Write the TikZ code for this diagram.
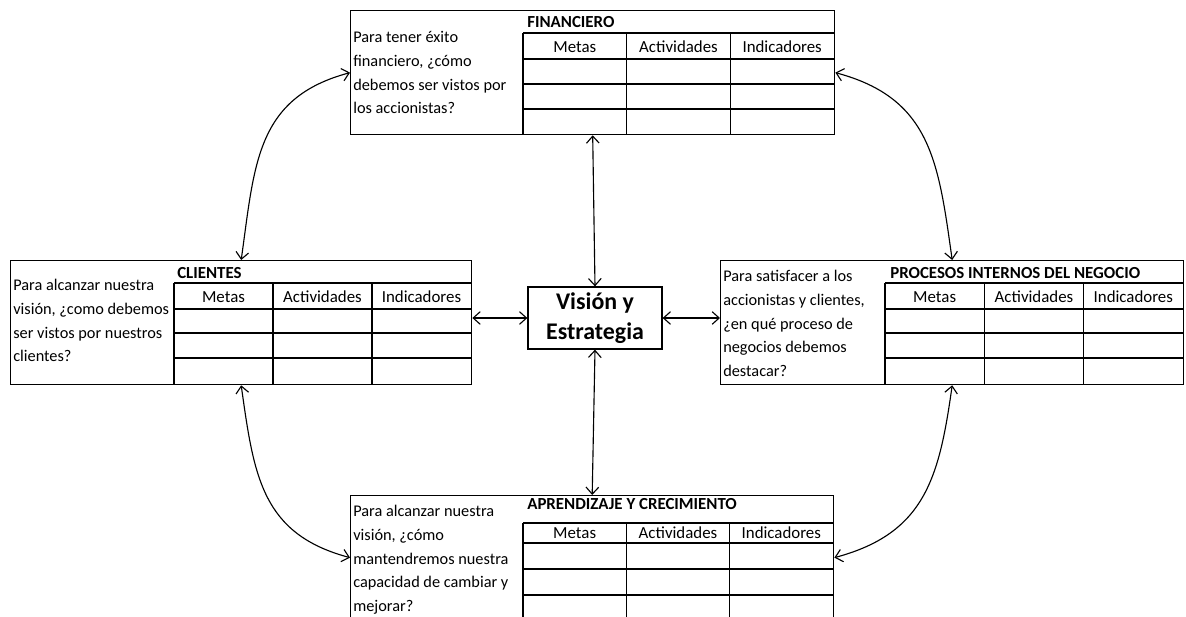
\documentclass[tikz,border=0pt]{standalone}
\usepackage{fontspec}
\setmainfont{Carlito}
\usetikzlibrary{arrows.meta}

\tikzset{
  caja/.style={draw, line width=0.9pt, minimum height=3.1cm, anchor=north west, inner sep=0pt},
  rejilla/.style={line width=0.8pt},
  gruesa/.style={line width=1.5pt},
  pregunta/.style={anchor=north west, align=left, inner sep=0pt, font=\fontsize{11.6}{16.9}\selectfont},
  titulo/.style={anchor=west, inner sep=0pt, font=\fontsize{12}{14}\selectfont\bfseries},
  cabecera/.style={inner sep=0pt, font=\fontsize{12}{14}\selectfont},
  flecha/.style={{Straight Barb[length=5pt,width=9pt]}-{Straight Barb[length=5pt,width=9pt]}, line width=0.8pt},
}

\begin{document}
\begin{tikzpicture}[x=0.025cm,y=-0.025cm]
\useasboundingbox (0,0) rectangle (1186,617);

% cajas de las perspectivas
\node[caja, minimum width=12.1cm] (fin) at (350,10) {};
\node[caja, minimum width=11.525cm] (cli) at (10,260) {};
\node[caja, minimum width=11.575cm] (pro) at (720,260) {};
\node[caja, minimum width=12.075cm] (apr) at (350,495) {};

\node[draw, line width=0.9pt, minimum width=3.35cm, minimum height=1.55cm, align=center,
  font=\fontsize{17}{21.5}\selectfont\bfseries] (vis) at (595,318) {Visión y\\Estrategia};

% financiero
\begin{scope}[shift={(fin.north west)}]
  \node[pregunta] (fin-q) at (3,21) {Para tener éxito\\financiero, ¿cómo\\debemos ser vistos por\\los accionistas?};
  \node[titulo] (fin-t) at (177,12) {FINANCIERO};
  \draw[rejilla] (173,23) -- (484,23) (173,99) -- (484,99);
  \draw[gruesa] (173,49) -- (484,49) (173,74) -- (484,74);
  \foreach \c in {0,1,2}
    \draw[rejilla] ({173+\c*103.67},23) -- ({173+\c*103.67},124);
  \foreach \c/\t in {0/Metas,1/Actividades,2/Indicadores}
    \node[cabecera] (fin-\c) at ({173+(\c+0.5)*103.67},37) {\t};
\end{scope}

% clientes
\begin{scope}[shift={(cli.north west)}]
  \node[pregunta] (cli-q) at (3,19) {Para alcanzar nuestra\\visión, ¿como debemos\\ser vistos por nuestros\\clientes?};
  \node[titulo] (cli-t) at (167,13) {CLIENTES};
  \draw[rejilla] (164,23) -- (461,23) (164,98) -- (461,98);
  \draw[gruesa] (164,49) -- (461,49) (164,73) -- (461,73);
  \foreach \c in {0,1,2}
    \draw[rejilla] ({164+\c*99},23) -- ({164+\c*99},124);
  \foreach \c/\t in {0/Metas,1/Actividades,2/Indicadores}
    \node[cabecera] (cli-\c) at ({164+(\c+0.5)*99},37) {\t};
\end{scope}

% procesos internos
\begin{scope}[shift={(pro.north west)}]
  \node[pregunta] (pro-q) at (3,10) {Para satisfacer a los\\accionistas y clientes,\\¿en qué proceso de\\negocios debemos\\destacar?};
  \node[titulo] (pro-t) at (170,13) {PROCESOS INTERNOS DEL NEGOCIO};
  \draw[rejilla] (165,23) -- (463,23) (165,98) -- (463,98);
  \draw[gruesa] (165,49) -- (463,49) (165,73) -- (463,73);
  \foreach \c in {0,1,2}
    \draw[rejilla] ({165+\c*99.33},23) -- ({165+\c*99.33},124);
  \foreach \c/\t in {0/Metas,1/Actividades,2/Indicadores}
    \node[cabecera] (pro-\c) at ({165+(\c+0.5)*99.33},37) {\t};
\end{scope}

% aprendizaje
\begin{scope}[shift={(apr.north west)}]
  \node[pregunta] (apr-q) at (3,10) {Para alcanzar nuestra\\visión, ¿cómo\\mantendremos nuestra\\capacidad de cambiar y\\mejorar?};
  \node[titulo] (apr-t) at (177,9) {APRENDIZAJE Y CRECIMIENTO};
  \draw[rejilla] (173,28) -- (483,28) (173,100) -- (483,100);
  \draw[gruesa] (173,48) -- (483,48) (173,74) -- (483,74);
  \foreach \c in {0,1,2}
    \draw[rejilla] ({173+\c*103.33},28) -- ({173+\c*103.33},124);
  \foreach \c/\t in {0/Metas,1/Actividades,2/Indicadores}
    \node[cabecera] (apr-\c) at ({173+(\c+0.5)*103.33},38) {\t};
\end{scope}

% flechas
\draw[flecha] (vis.north) -- (fin.south);
\draw[flecha] (vis.south) -- (apr.north);
\draw[flecha] (vis.west) -- (vis.west -| cli.east);
\draw[flecha] (vis.east) -- (vis.east -| pro.west);
\draw[flecha] (fin.west) to[out=195,in=82,looseness=1.15] (cli.north);
\draw[flecha] (cli.south) to[out=-82,in=165,looseness=1.15] (apr.west);
\draw[flecha] (fin.east) to[out=-15,in=98,looseness=1.15] (pro.north);
\draw[flecha] (pro.south) to[out=-98,in=15,looseness=1.15] (apr.east);
\end{tikzpicture}
\end{document}
